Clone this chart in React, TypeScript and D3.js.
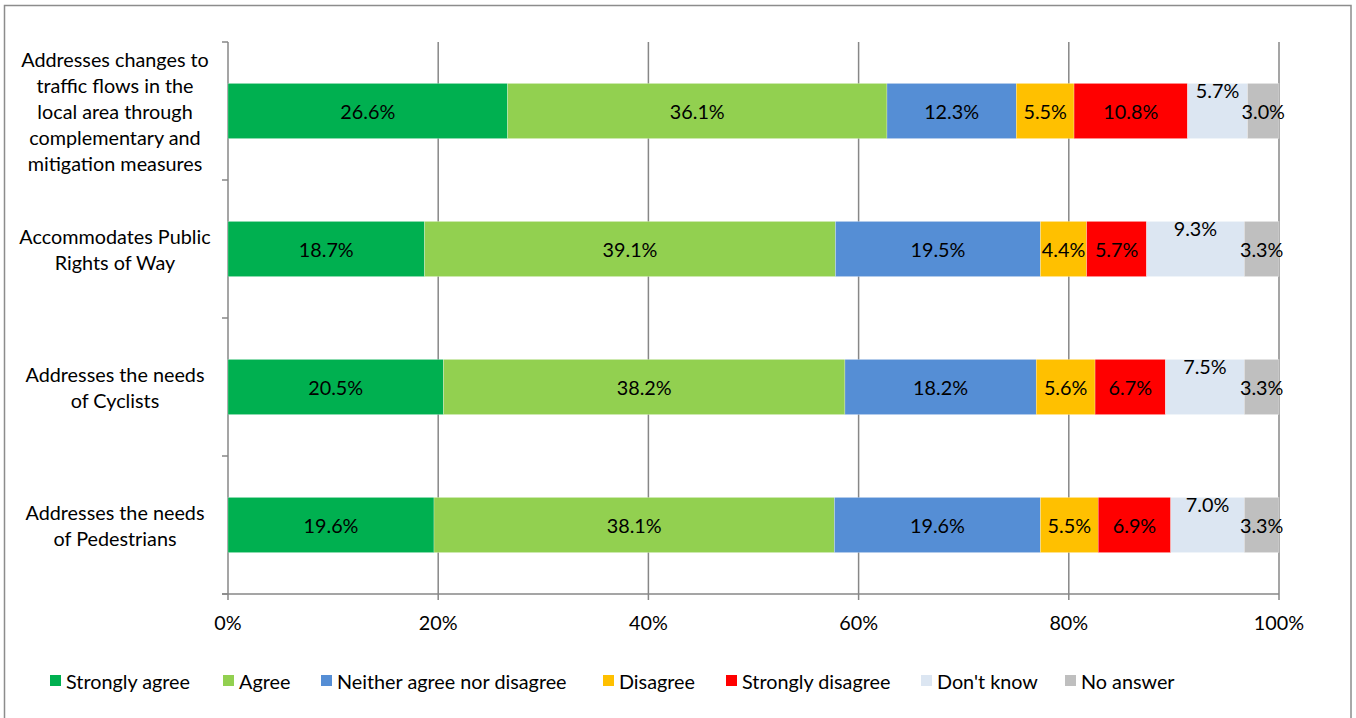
import React from "react";
import * as d3 from "d3";

const categories: string[][] = [
  ["Addresses changes to", "traffic flows in the", "local area through", "complementary and", "mitigation measures"],
  ["Accommodates Public", "Rights of Way"],
  ["Addresses the needs", "of Cyclists"],
  ["Addresses the needs", "of Pedestrians"],
];

const seriesNames = [
  "Strongly agree",
  "Agree",
  "Neither agree nor disagree",
  "Disagree",
  "Strongly disagree",
  "Don't know",
  "No answer",
];

const strongAgree = [26.6, 18.7, 20.5, 19.6];
const agree = [36.1, 39.1, 38.2, 38.1];
const neither = [12.3, 19.5, 18.2, 19.6];
const disagree = [5.5, 4.4, 5.6, 5.5];
const strongDisagree = [10.8, 5.7, 6.7, 6.9];
const dontKnow = [5.7, 9.3, 7.5, 7.0];
const noAnswer = [3.0, 3.3, 3.3, 3.3];

const xTicks = [0, 20, 40, 60, 80, 100];

const colors = ["#00B050", "#92D050", "#558ED5", "#FFC000", "#FF0000", "#DCE6F2", "#BFBFBF"];
const legendX = [50, 223, 321, 603, 726, 921, 1065];

const W = 1356;
const H = 718;
const FONT = "Lato, 'Open Sans', sans-serif";
const FS = 19.8;

export default function App() {
  const series = [strongAgree, agree, neither, disagree, strongDisagree, dontKnow, noAnswer];
  const x = d3.scaleLinear().domain([0, 100]).range([228, 1279]);
  const y = d3
    .scaleBand<number>()
    .domain(d3.range(categories.length))
    .range([42, 594])
    .paddingInner(0.6)
    .paddingOuter(0.3);
  const yOuter = d3.scaleBand<number>().domain(d3.range(categories.length)).range([42, 594]);

  const stacked = categories.map((_, ci) => {
    let acc = 0;
    return series.map((s, si) => {
      const x0 = acc;
      acc += s[ci];
      return { si, x0, x1: acc, v: s[ci] };
    });
  });

  const gridColor = "#878787";
  const lineH = 26;

  return (
    <svg
      width={W}
      height={H}
      style={{ position: "absolute", left: 0, top: 0, background: "#fff" }}
      fontFamily={FONT}
    >
      <rect x={4.5} y={5.5} width={1346.5} height={720} fill="#fff" stroke="#8c8c8c" strokeWidth={1.5} />

      {/* gridlines */}
      {xTicks.map((t) => (
        <line key={"g" + t} x1={x(t)} x2={x(t)} y1={42} y2={600} stroke={gridColor} strokeWidth={1.5} />
      ))}
      {/* y axis ticks */}
      {d3.range(categories.length + 1).map((i) => {
        const yy = i < categories.length ? yOuter(i)! : 594;
        return <line key={"yt" + i} x1={222} x2={228} y1={yy} y2={yy} stroke={gridColor} strokeWidth={1.5} />;
      })}
      <line x1={222} x2={1279} y1={594} y2={594} stroke={gridColor} strokeWidth={1.5} />

      {/* bars */}
      {stacked.map((segs, ci) =>
        segs.map((sg) => (
          <rect
            key={ci + "-" + sg.si}
            x={x(sg.x0)}
            y={y(ci)}
            width={x(sg.x1) - x(sg.x0)}
            height={y.bandwidth()}
            fill={colors[sg.si]}
            stroke="#ffffff"
            strokeOpacity={0.5}
            strokeWidth={0.5}
          />
        ))
      )}
      {/* data labels */}
      {stacked.map((segs, ci) =>
        segs.map((sg) => (
          <text
            key={"l" + ci + "-" + sg.si}
            x={(x(sg.x0) + x(sg.x1)) / 2}
            y={y(ci)! + y.bandwidth() / 2 + (sg.si === 5 ? -21 : 0)}
            textAnchor="middle"
            dominantBaseline="central"
            fontSize={FS}
            fill="#000"
          >
            {sg.v.toFixed(1) + "%"}
          </text>
        ))
      )}

      {/* category labels */}
      {categories.map((lines, ci) => {
        const cy = yOuter(ci)! + yOuter.bandwidth() / 2;
        const start = cy - ((lines.length - 1) * lineH) / 2;
        return (
          <text key={"c" + ci} textAnchor="middle" fontSize={FS} fill="#000" dominantBaseline="central">
            {lines.map((ln, li) => (
              <tspan key={li} x={115} y={start + li * lineH}>
                {ln}
              </tspan>
            ))}
          </text>
        );
      })}

      {/* x tick labels */}
      {xTicks.map((t) => (
        <text key={"xt" + t} x={x(t)} y={622} textAnchor="middle" dominantBaseline="central" fontSize={FS} fill="#000">
          {t + "%"}
        </text>
      ))}

      {/* legend */}
      {seriesNames.map((n, i) => (
        <g key={"lg" + i}>
          <rect x={legendX[i]} y={675} width={11} height={11} fill={colors[i]} />
          <text x={legendX[i] + 16} y={681} dominantBaseline="central" fontSize={FS} fill="#000">
            {n}
          </text>
        </g>
      ))}
    </svg>
  );
}
